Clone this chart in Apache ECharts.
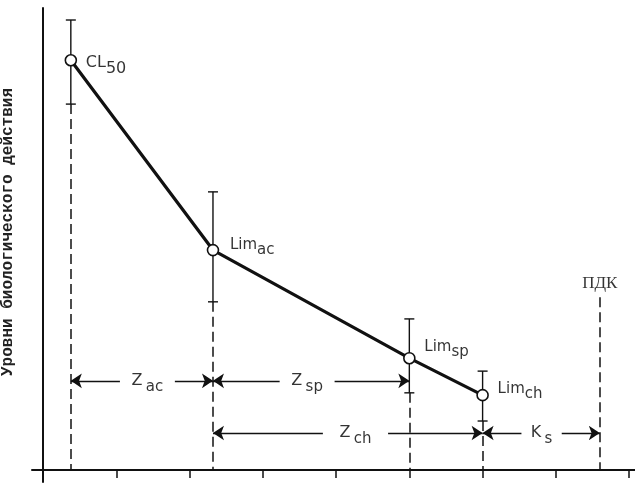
<!DOCTYPE html>
<html>
<head>
<meta charset="utf-8">
<script src="https://cdn.jsdelivr.net/npm/echarts@6/dist/echarts.min.js"></script>
<style>
html,body{margin:0;padding:0;background:#fff;}
#chart{width:635px;height:489px;}
</style>
</head>
<body>
<div id="chart"></div>
<script>
// ---- data ----
const pointNames = ['CL', 'Lim', 'Lim', 'Lim'];
const pointSubs = ['50', 'ac', 'sp', 'ch'];
const pointX = [0.38, 2.32, 5.0, 6.0];
const pointY = [88.7, 47.6, 24.2, 16.2];
const errHigh = [97.4, 60.2, 32.7, 21.4];
const errLow = [79.2, 36.4, 16.7, 10.6];
const pdkX = 7.6;
const pdkTop = 37.4;
const pdkLabel = 'ПДК';
const xTicks = [1, 2, 3, 4, 5, 6, 7, 8];
const yAxisName = 'Уровни биологического действия';
const zNames = ['Z', 'Z', 'Z', 'K'];
const zSubs = ['ac', 'sp', 'ch', 's'];
const zFrom = [0.38, 2.32, 2.32, 6.0];
const zTo = [2.32, 5.0, 6.0, 7.6];
const zLevel = [19.3, 19.3, 8.0, 8.0];
const zGapStart = [1.05, 3.23, 3.82, 6.53];
const zGapEnd = [1.80, 3.98, 4.71, 7.08];

// ---- build ----
const lineData = pointX.map((x, i) => [x, pointY[i]]);
const errData = pointX.map((x, i) => [x, errLow[i], errHigh[i]]);
const dropLines = pointX.map((x, i) => ({ coords: [[x, errLow[i]], [x, 0]] }));
dropLines.push({ coords: [[pdkX, pdkTop], [pdkX, 0]] });

const arrowLines = [];
zFrom.forEach((f, i) => {
  arrowLines.push({ coords: [[zGapStart[i], zLevel[i]], [f, zLevel[i]]] });
  arrowLines.push({ coords: [[zGapEnd[i], zLevel[i]], [zTo[i], zLevel[i]]] });
});

const FONT = 'DejaVu Sans';
const richStyle = {
  m: { fontSize: 16, fontFamily: FONT, color: '#000', padding: [0, 0, 6, 0] },
  s: { fontSize: 16, fontFamily: FONT, color: '#000', padding: [6, 0, 0, 0] },
  lm: { fontSize: 15, fontFamily: FONT, color: '#000', padding: [0, 0, 5, 0] },
  ls: { fontSize: 15, fontFamily: FONT, color: '#000', padding: [5, 0, 0, 0] },
  zm: { fontSize: 16, fontFamily: FONT, color: '#000', padding: [0, 0, 6, 0] },
  zs: { fontSize: 15, fontFamily: FONT, color: '#000', padding: [6, 0, 0, 0] }
};

const pointLabelOffsets = [[4, 6], [6, -2], [4, -9], [4, -4]];
const textItems = [];
pointX.forEach((x, i) => {
  textItems.push({
    value: [x, pointY[i]],
    label: {
      show: true, position: 'right', distance: 11, offset: pointLabelOffsets[i],
      formatter: (i === 0 ? '{m|' : '{lm|') + pointNames[i] + '}' + (i === 0 ? '{s|' : '{ls|') + pointSubs[i] + '}',
      rich: richStyle
    }
  });
});
zFrom.forEach((f, i) => {
  textItems.push({
    value: [(zGapStart[i] + zGapEnd[i]) / 2, zLevel[i]],
    label: {
      show: true, position: 'inside', offset: [0, 3],
      formatter: '{zm|' + zNames[i] + '} {zs|' + zSubs[i] + '}',
      rich: richStyle
    }
  });
});
textItems.push({
  value: [pdkX, pdkTop],
  label: { show: true, position: 'top', distance: 5, formatter: pdkLabel,
    fontSize: 17, fontFamily: 'Liberation Serif', color: '#000' }
});

const chart = echarts.init(document.getElementById('chart'));
chart.setOption({
  animation: false,
  backgroundColor: '#fff',
  grid: { left: 32, right: 0, top: 8, bottom: 7, containLabel: false, outerBoundsMode: 'none' },
  xAxis: {
    type: 'value', min: -0.15, max: 8.08,
    axisLine: { show: true, onZero: true, lineStyle: { color: '#111', width: 2 } },
    axisTick: { show: true, customValues: xTicks, length: 8, inside: false, lineStyle: { color: '#111', width: 1.5 } },
    axisLabel: { show: false },
    splitLine: { show: false }
  },
  yAxis: {
    type: 'value', min: -2.6, max: 100,
    name: yAxisName, nameLocation: 'middle', nameRotate: 90, nameGap: 16,
    nameTextStyle: { fontSize: 16, fontWeight: 'bold', fontFamily: 'Liberation Mono', color: '#222', padding: [0, 0, 0, 26] },
    axisLine: { show: true, onZero: true, lineStyle: { color: '#111', width: 2 } },
    axisTick: { show: false },
    axisLabel: { show: false },
    splitLine: { show: false }
  },
  series: [
    {
      type: 'lines', coordinateSystem: 'cartesian2d', silent: true,
      data: dropLines, symbol: 'none',
      lineStyle: { color: '#111', width: 1.5, type: [10, 5], opacity: 1 }
    },
    {
      type: 'lines', coordinateSystem: 'cartesian2d', silent: true,
      data: arrowLines, symbol: ['none', 'arrow'], symbolSize: [7, 11],
      lineStyle: { color: '#111', width: 1.3, opacity: 1 }
    },
    {
      type: 'custom', silent: true,
      data: errData,
      renderItem: function (params, api) {
        const top = api.coord([api.value(0), api.value(2)]);
        const bot = api.coord([api.value(0), api.value(1)]);
        const cap = 5;
        const st = { stroke: '#111', lineWidth: 1.4 };
        return {
          type: 'group', children: [
            { type: 'line', shape: { x1: top[0], y1: top[1], x2: bot[0], y2: bot[1] }, style: st },
            { type: 'line', shape: { x1: top[0] - cap, y1: top[1], x2: top[0] + cap, y2: top[1] }, style: st },
            { type: 'line', shape: { x1: bot[0] - cap, y1: bot[1], x2: bot[0] + cap, y2: bot[1] }, style: st }
          ]
        };
      }
    },
    {
      type: 'line', data: lineData, silent: true,
      lineStyle: { color: '#111', width: 3.2 },
      symbol: 'circle', symbolSize: 11,
      itemStyle: { color: '#fff', borderColor: '#111', borderWidth: 1.6 },
      z: 5
    },
    {
      type: 'scatter', data: textItems, symbolSize: 0, silent: true, z: 6
    }
  ]
});
</script>
</body>
</html>
